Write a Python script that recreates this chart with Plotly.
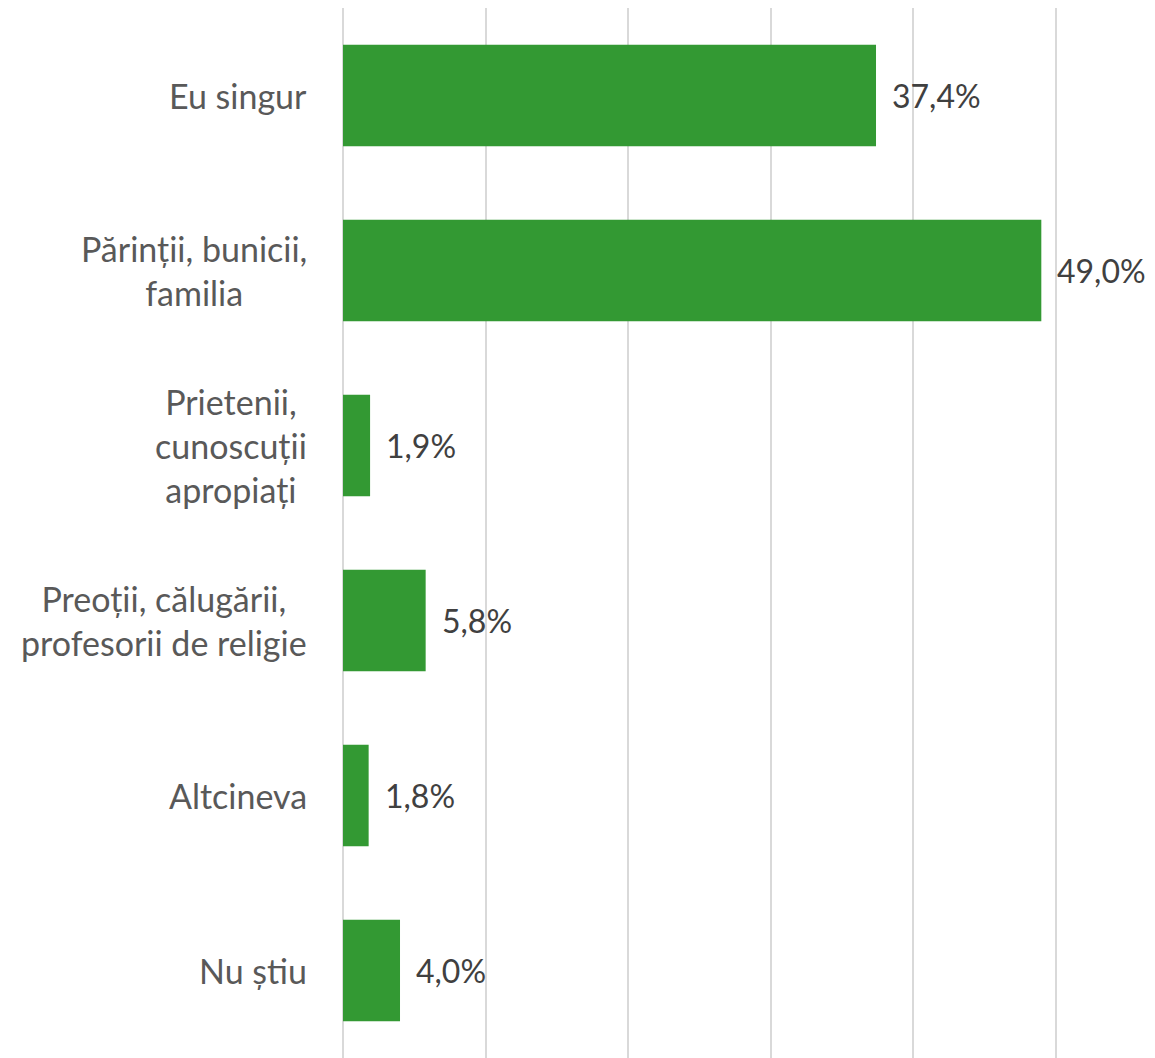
import plotly.graph_objects as go

categories = ["Eu singur", "Părinții, bunicii,<br>familia", "Prietenii,<br>cunoscuții<br>apropiați",
              "Preoții, călugării,<br>profesorii de religie", "Altcineva", "Nu știu"]
values = [37.4, 49.0, 1.9, 5.8, 1.8, 4.0]
value_labels = ["37,4%", "49,0%", "1,9%", "5,8%", "1,8%", "4,0%"]

FONT = "Lato"
fig = go.Figure()
fig.add_trace(go.Bar(
    y=list(range(len(categories))), x=values, orientation="h",
    marker=dict(color="#339933", line=dict(width=0)),
    width=0.58, hoverinfo="skip",
))

for i, (v, t) in enumerate(zip(values, value_labels)):
    fig.add_annotation(x=v, y=i, text=t, showarrow=False, xanchor="left", xshift=14,
                       font=dict(family=FONT, size=32, color="#404040"))
for i, c in enumerate(categories):
    fig.add_annotation(x=0, y=i, xref="paper", yref="y", text=c, showarrow=False,
                       xanchor="right", align="center", xshift=-34,
                       font=dict(family=FONT, size=34, color="#595959"))

fig.update_layout(
    width=1147, height=1050,
    margin=dict(l=335, r=98, t=0, b=0),
    plot_bgcolor="white", paper_bgcolor="white",
    showlegend=False,
    xaxis=dict(range=[0, 50.1], tickvals=[0, 10, 20, 30, 40, 50], showticklabels=False,
               showgrid=True, gridcolor="#d9d9d9", gridwidth=2, zeroline=True,
               zerolinecolor="#d9d9d9", zerolinewidth=2, fixedrange=True),
    yaxis=dict(range=[5.5, -0.5], showticklabels=False, showgrid=False, zeroline=False,
               fixedrange=True),
)
fig.write_html("out.html")
